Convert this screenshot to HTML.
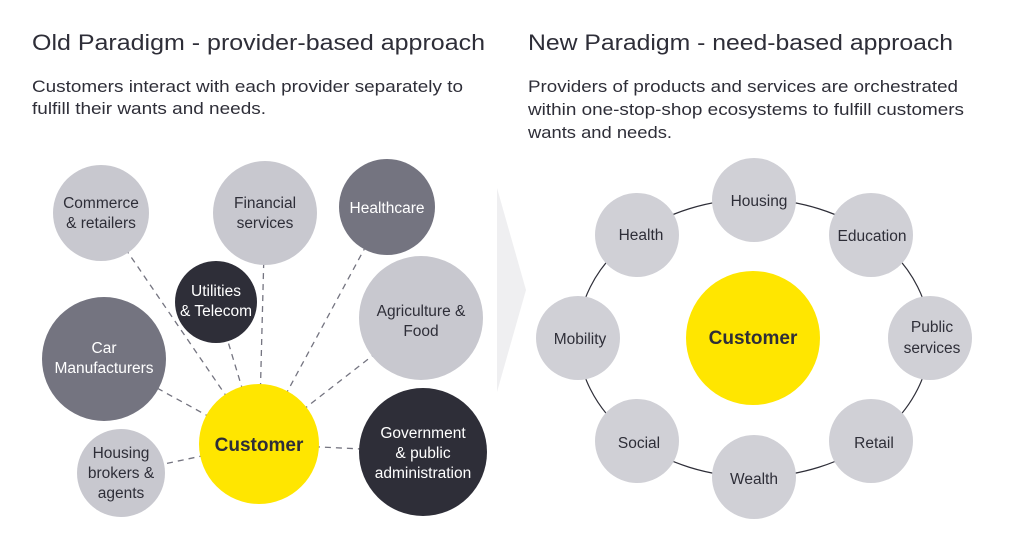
<!DOCTYPE html>
<html><head><meta charset="utf-8"><style>
body{margin:0;width:1024px;height:550px;background:#fff;overflow:hidden;font-family:"Liberation Sans",sans-serif}
</style></head><body>
<svg width="1024" height="550" viewBox="0 0 1024 550" font-family="Liberation Sans, sans-serif">
<text x="32" y="50" font-size="22.5" fill="#2e2e38" textLength="453" lengthAdjust="spacingAndGlyphs">Old Paradigm - provider-based approach</text>
<text x="32" y="92" font-size="17" fill="#2e2e38" textLength="431" lengthAdjust="spacingAndGlyphs">Customers interact with each provider separately to</text>
<text x="32" y="114" font-size="17" fill="#2e2e38" textLength="234" lengthAdjust="spacingAndGlyphs">fulfill their wants and needs.</text>
<text x="528" y="50" font-size="22.5" fill="#2e2e38" textLength="425" lengthAdjust="spacingAndGlyphs">New Paradigm - need-based approach</text>
<text x="528" y="92" font-size="17" fill="#2e2e38" textLength="430" lengthAdjust="spacingAndGlyphs">Providers of products and services are orchestrated</text>
<text x="528" y="115" font-size="17" fill="#2e2e38" textLength="436" lengthAdjust="spacingAndGlyphs">within one-stop-shop ecosystems to fulfill customers</text>
<text x="528" y="138" font-size="17" fill="#2e2e38" textLength="144" lengthAdjust="spacingAndGlyphs">wants and needs.</text>
<polygon points="497,188 526,290 497,392" fill="#efeff1"/>
<g stroke="#747480" stroke-width="1.3" stroke-dasharray="6,5">
<line x1="259" y1="444" x2="101" y2="213"/><line x1="259" y1="444" x2="265" y2="213"/>
<line x1="259" y1="444" x2="387" y2="207"/><line x1="259" y1="444" x2="216" y2="302"/>
<line x1="259" y1="444" x2="104" y2="359"/><line x1="259" y1="444" x2="421" y2="318"/>
<line x1="259" y1="444" x2="423" y2="452"/><line x1="259" y1="444" x2="121" y2="473"/>
</g>
<g font-size="15.5" text-anchor="middle">
<circle cx="101" cy="213" r="48" fill="#c8c8cf"/><text x="101" y="208" fill="#2e2e38">Commerce</text><text x="101" y="228" fill="#2e2e38">&amp; retailers</text>
<circle cx="265" cy="213" r="52" fill="#c8c8cf"/><text x="265" y="208" fill="#2e2e38">Financial</text><text x="265" y="228" fill="#2e2e38">services</text>
<circle cx="387" cy="207" r="48" fill="#747480"/><text x="387" y="213" fill="#fff">Healthcare</text>
<circle cx="216" cy="302" r="41" fill="#2e2e38"/><text x="216" y="296" fill="#fff">Utilities</text><text x="216" y="316" fill="#fff">&amp; Telecom</text>
<circle cx="104" cy="359" r="62" fill="#747480"/><text x="104" y="353" fill="#fff">Car</text><text x="104" y="373" fill="#fff">Manufacturers</text>
<circle cx="421" cy="318" r="62" fill="#c8c8cf"/><text x="421" y="316" fill="#2e2e38">Agriculture &amp;</text><text x="421" y="336" fill="#2e2e38">Food</text>
<circle cx="423" cy="452" r="64" fill="#2e2e38"/><text x="423" y="438" fill="#fff">Government</text><text x="423" y="458" fill="#fff">&amp; public</text><text x="423" y="478" fill="#fff">administration</text>
<circle cx="121" cy="473" r="44" fill="#c8c8cf"/><text x="121" y="458" fill="#2e2e38">Housing</text><text x="121" y="478" fill="#2e2e38">brokers &amp;</text><text x="121" y="498" fill="#2e2e38">agents</text>
<circle cx="259" cy="444" r="60" fill="#ffe600"/><text x="259" y="451" font-size="19" font-weight="bold" fill="#2e2e38">Customer</text>
<ellipse cx="754" cy="338" rx="176" ry="139" fill="none" stroke="#2e2e38" stroke-width="1.2"/>
<circle cx="754" cy="200" r="42" fill="#d0d0d6"/><text x="759" y="206" fill="#2e2e38">Housing</text>
<circle cx="637" cy="235" r="42" fill="#d0d0d6"/><text x="641" y="240" fill="#2e2e38">Health</text>
<circle cx="871" cy="235" r="42" fill="#d0d0d6"/><text x="872" y="241" fill="#2e2e38">Education</text>
<circle cx="578" cy="338" r="42" fill="#d0d0d6"/><text x="580" y="344" fill="#2e2e38">Mobility</text>
<circle cx="930" cy="338" r="42" fill="#d0d0d6"/><text x="932" y="332" fill="#2e2e38">Public</text><text x="932" y="353" fill="#2e2e38">services</text>
<circle cx="637" cy="441" r="42" fill="#d0d0d6"/><text x="639" y="448" fill="#2e2e38">Social</text>
<circle cx="871" cy="441" r="42" fill="#d0d0d6"/><text x="874" y="448" fill="#2e2e38">Retail</text>
<circle cx="754" cy="477" r="42" fill="#d0d0d6"/><text x="754" y="484" fill="#2e2e38">Wealth</text>
<circle cx="753" cy="338" r="67" fill="#ffe600"/><text x="753" y="344" font-size="19" font-weight="bold" fill="#2e2e38">Customer</text>
</g>
</svg>
</body></html>
